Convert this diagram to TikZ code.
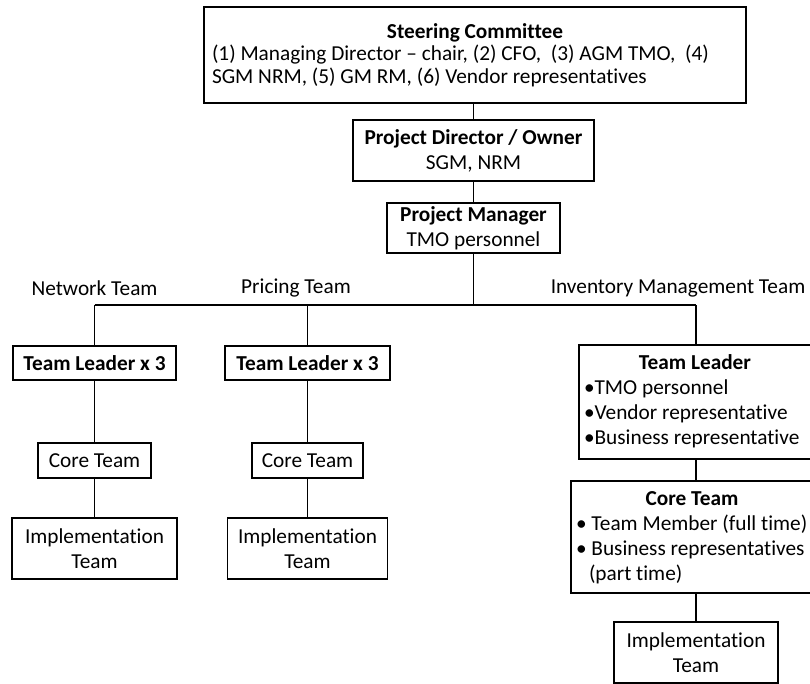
\documentclass[tikz,border=0pt]{standalone}
\usepackage{fontspec}
\setmainfont{Carlito}[RawFeature={-liga;-clig}]
\newcommand\fnt{\fontsize{21.3}{25}\selectfont}
\newcommand\fnttop{\fontsize{21.3}{22.5}\selectfont}
\begin{document}
\begin{tikzpicture}[x=1pt,y=-1pt,
  box/.style={draw, line width=1.2pt, inner sep=0pt, outer sep=0pt, align=flush center, font=\fnt},
  lbl/.style={inner sep=0pt, outer sep=0pt, font=\fnt},
  conn/.style={line width=1.2pt}]
\useasboundingbox (0,0) rectangle (810,684);
\clip (0,0) rectangle (810,684);
% top chain
\node[box, minimum width=542pt, minimum height=96pt, font=\fnttop, text width=526pt, align=flush left] (steer) at (475,55)
  {\makebox[526pt][c]{\textbf{Steering Committee}}\\(1) Managing Director – chair, (2) CFO,\ \ (3) AGM TMO,\ \ (4)\\SGM NRM, (5) GM RM, (6) Vendor representatives};
\node[box, minimum width=241pt, minimum height=61pt] (pd) at (473.5,150.5)
  {\textbf{Project Director / Owner}\\SGM, NRM};
\node[box, minimum width=173pt, minimum height=50pt] (pm) at (473.5,228)
  {\textbf{Project Manager}\\TMO personnel};
\coordinate (bus) at (473.5,305);
% team labels
\node[lbl] (lnet) at (94.5,288) {Network Team};
\node[lbl] (lpri) at (296,288) {Pricing Team};
\node[lbl] (linv) at (678,288) {Inventory Management Team};
% network branch
\node[box, minimum width=163pt, minimum height=34pt] (ntl) at (94.5,363) {\textbf{Team Leader x 3}};
\node[box, minimum width=113pt, minimum height=35pt] (nct) at (94.5,460.5) {Core Team};
\node[box, minimum width=165pt, minimum height=61pt] (nimp) at (94.5,548.5) {Implementation\\Team};
% pricing branch
\node[box, minimum width=165pt, minimum height=34pt] (ptl) at (307.5,363) {\textbf{Team Leader x 3}};
\node[box, minimum width=111pt, minimum height=35pt] (pct) at (307.5,460.5) {Core Team};
\node[box, minimum width=160pt, minimum height=61pt] (pimp) at (307.5,548.5) {Implementation\\Team};
% inventory branch
\node[box, minimum width=234pt, minimum height=114pt] (itl) at (696,402) {};
\node[lbl, anchor=north west, text width=220pt, align=flush left] (itlt) at (584,355)
  {\makebox[220pt][c]{\hspace{2pt}\textbf{Team Leader}}\\•TMO personnel\\•Vendor representative\\•Business representative};
\node[box, minimum width=250pt, minimum height=112pt] (ict) at (696,537) {};
\node[lbl, anchor=north west, text width=240pt, align=flush left] (ictt) at (576,492)
  {\makebox[240pt][c]{\hspace{-8pt}\textbf{Core Team}}\\•\ Team Member (full time)\\•\ Business representatives\\\hspace{13pt}(part time)};
\node[box, minimum width=164pt, minimum height=61pt] (iimp) at (696,652.5) {Implementation\\Team};
% connectors
\draw[conn] (steer.south -| pd.north) -- (pd.north);
\draw[conn] (pd.south) -- (pm.north);
\draw[conn] (pm.south) -- (bus);
\draw[conn] (ntl.north |- bus) -- (itl.north |- bus);
\draw[conn] (ntl.north |- bus) -- (ntl.north);
\draw[conn] (ptl.north |- bus) -- (ptl.north);
\draw[conn] (itl.north |- bus) -- (itl.north);
\draw[conn] (ntl.south) -- (nct.north);
\draw[conn] (nct.south) -- (nimp.north);
\draw[conn] (ptl.south) -- (pct.north);
\draw[conn] (pct.south) -- (pimp.north);
\draw[conn] (itl.south) -- (ict.north);
\draw[conn] (ict.south) -- (iimp.north);
\end{tikzpicture}
\end{document}
